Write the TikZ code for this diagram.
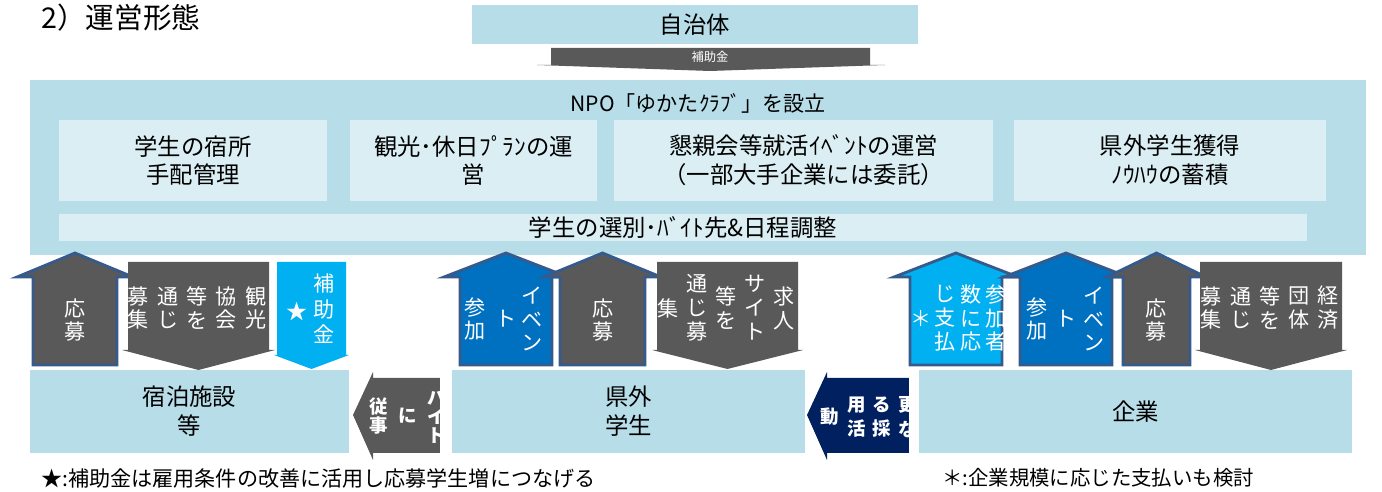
\documentclass[tikz,border=0pt]{standalone}
\usepackage{fontspec}
\setmainfont{Noto Sans CJK JP}

\definecolor{boxblue}{HTML}{B7DDE8}
\definecolor{paleblue}{HTML}{DAEEF3}
\definecolor{arrgray}{HTML}{595959}
\definecolor{rimblue}{HTML}{375A8C}
\definecolor{midblue}{HTML}{0070C0}
\definecolor{skyblue}{HTML}{00B0F0}
\definecolor{navyblue}{HTML}{002060}

\tikzset{
    box/.style={fill=boxblue, inner sep=0pt, align=center, font=\fontsize{13.3}{16.4}\selectfont},
    subbox/.style={box, fill=paleblue},
    vtext/.style={text=white, inner sep=0pt, align=center, font=\fontsize{12}{13.6}\selectfont},
    vbold/.style={text=white, inner sep=0pt, align=center, font=\bfseries\fontsize{10.5}{#1}\selectfont},
    housearrow/.style={fill=#1, draw=rimblue, line width=1.6pt, line join=miter},
    flatarrow/.style={fill=#1},
}

\begin{document}
\begin{tikzpicture}[x=0.2mm, y=-0.2mm]

    \useasboundingbox (0, 0) rectangle (1382, 492);

    % Nodes
    \node at (41, 18) (title) [anchor=west, inner sep=0pt, font=\fontsize{16.3}{18}\selectfont] {2）運営形態};

    \node at (695, 24.5) (jichitai) [box, minimum width=89.2mm, minimum height=7.8mm] {自治体};

    \node at (698, 167.5) (npo) [box, minimum width=267.2mm, minimum height=35mm] {};
    \node at (698, 103) (npotitle) [font=\fontsize{12}{14}\selectfont, inner sep=0pt] {NPO「ゆかたｸﾗﾌﾞ」を設立};

    \node at (193, 160.5) (shukusho) [subbox, minimum width=53.6mm, minimum height=16.2mm] {学生の宿所\\手配管理};
    \node at (473.5, 160.5) (kanko) [subbox, minimum width=49.4mm, minimum height=16.2mm] {観光･休日ﾌﾟﾗﾝの運\\営};
    \node at (803.5, 160.5) (konshin) [subbox, minimum width=75.8mm, minimum height=16.2mm] {懇親会等就活ｲﾍﾞﾝﾄの運営\\（一部大手企業には委託）};
    \node at (1170, 160.5) (knowhow) [subbox, minimum width=62.4mm, minimum height=16.2mm] {県外学生獲得\\ﾉｳﾊｳの蓄積};
    \node at (683, 227.5) (senbetsu) [subbox, minimum width=249.6mm, minimum height=5.4mm] {学生の選別･ﾊﾞｲﾄ先\&日程調整};

    \node at (189.5, 411.5) (yado) [box, minimum width=63.8mm, minimum height=16.6mm] {宿泊施設\\等};
    \node at (628.5, 411.5) (kengai) [box, minimum width=70.6mm, minimum height=16.6mm] {県外\\学生};
    \node at (1135.5, 411.5) (kigyo) [box, minimum width=86.6mm, minimum height=16.6mm] {企業};

    % Arrows
    \fill[arrgray] (551, 48) -- (870, 48) -- (870, 65) -- (885, 65) -- (710, 71) -- (537, 65) -- (551, 65) -- cycle;
    \node at (710, 57) (hojo) [text=white, inner sep=0pt, font=\fontsize{7}{8}\selectfont] {補助金};

    \draw[housearrow=arrgray] (33, 365) -- (33, 277) -- (17, 277) -- (75, 253) -- (133, 277) -- (117, 277) -- (117, 365) -- cycle;
    \fill[arrgray] (128, 262) -- (269, 262) -- (269, 350) -- (275, 350) -- (198.5, 370) -- (122, 350) -- (128, 350) -- cycle;
    \fill[skyblue] (277, 262) -- (346, 262) -- (346, 355) -- (349, 355) -- (311.5, 369) -- (274, 355) -- (277, 355) -- cycle;

    \draw[housearrow=midblue] (460, 365) -- (460, 277) -- (444, 277) -- (506, 253) -- (568, 277) -- (552, 277) -- (552, 365) -- cycle;
    \draw[housearrow=arrgray] (560, 365) -- (560, 277) -- (544, 277) -- (602.5, 253) -- (661, 277) -- (645, 277) -- (645, 365) -- cycle;
    \fill[arrgray] (657, 262) -- (798, 262) -- (798, 350) -- (803, 350) -- (727.5, 369) -- (652, 350) -- (657, 350) -- cycle;

    \draw[housearrow=skyblue] (910, 365) -- (910, 277) -- (894, 277) -- (956, 253) -- (1018, 277) -- (1002, 277) -- (1002, 365) -- cycle;
    \draw[housearrow=midblue] (1020, 365) -- (1020, 277) -- (1004, 277) -- (1066, 253) -- (1128, 277) -- (1112, 277) -- (1112, 365) -- cycle;
    \draw[housearrow=arrgray] (1123, 365) -- (1123, 277) -- (1107, 277) -- (1156.5, 253) -- (1206, 277) -- (1190, 277) -- (1190, 365) -- cycle;
    \fill[arrgray] (1200, 262) -- (1342, 262) -- (1342, 350) -- (1347, 350) -- (1271, 370) -- (1195, 350) -- (1200, 350) -- cycle;

    % Arrow texts
    \node at (75, 320) (oboA) [vtext] {応\\募};
    \foreach \x/\t [count=\i] in {256/{観\\光}, 226/{協\\会}, 197/{等\\を}, 168/{通\\じ}, 138/{募\\集}}
        \node at (\x, 308) (kankoT\i) [vtext] {\t};
    \node at (324, 309) (hojoT) [vtext, font=\fontsize{12}{14.5}\selectfont] {補\\助\\金};
    \node at (297, 312) (star) [vtext] {★};

    \foreach \x/\t [count=\i] in {532/{イ\\ベ\\ン}, 506/ト, 475/{参\\加}}
        \node at (\x, 319) (eventA\i) [vtext] {\t};
    \node at (603, 320) (oboB) [vtext] {応\\募};
    \foreach \x/\t [count=\i] in {784/{求\\人}, 755/{サ\\イ\\ト}, 726/{等\\を}, 697/{通\\じ\\募}, 668/集}
        \node at (\x, 308) (kyujinT\i) [vtext] {\t};

    \foreach \x/\t [count=\i] in {996/{参\\加\\者}, 971/{数\\に\\応}, 945/{じ\\支\\払}, 921/＊}
        \node at (\x, 318) (sankaT\i) [vtext] {\t};
    \foreach \x/\t [count=\i] in {1094/{イ\\ベ\\ン}, 1066/ト, 1037/{参\\加}}
        \node at (\x, 319) (eventB\i) [vtext] {\t};
    \node at (1156, 320) (oboC) [vtext] {応\\募};
    \foreach \x/\t [count=\i] in {1328/{経\\済}, 1299/{団\\体}, 1270/{等\\を}, 1241/{通\\じ}, 1211/{募\\集}}
        \node at (\x, 308) (keizaiT\i) [vtext] {\t};

    % Side arrows
    \begin{scope}
        \clip (440, 378) -- (373, 378) -- (373, 372) -- (353, 415) -- (373, 460) -- (373, 453) -- (440, 453) -- cycle;
        \fill[arrgray] (353, 370) rectangle (440, 462);
        \foreach \x/\t [count=\i] in {437/{バ\\イ\\ト}, 408/に, 379/{従\\事}}
            \node at (\x, 416) (baitoT\i) [vbold=10.8] {\t};
    \end{scope}
    \begin{scope}
        \clip (909, 378) -- (827, 378) -- (827, 372) -- (807, 415) -- (827, 460) -- (827, 453) -- (909, 453) -- cycle;
        \fill[navyblue] (807, 370) rectangle (909, 462);
        \foreach \x/\t [count=\i] in {908/{更\\な}, 882/{る\\採}, 857/{用\\活}, 830/動}
            \node at (\x, 417) (saiyoT\i) [vbold=14] {\t};
    \end{scope}

    % Notes
    \node at (41, 478) (noteA) [anchor=west, inner sep=0pt, font=\fontsize{12}{14}\selectfont] {★:補助金は雇用条件の改善に活用し応募学生増につなげる};
    \node at (942, 478) (noteB) [anchor=west, inner sep=0pt, font=\fontsize{11.6}{14}\selectfont] {＊:企業規模に応じた支払いも検討};

\end{tikzpicture}
\end{document}
